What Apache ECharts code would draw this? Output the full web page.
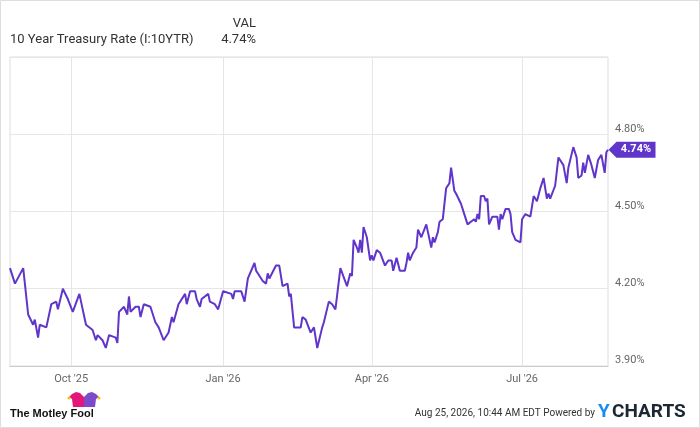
<!DOCTYPE html>
<html>
<head>
    <meta charset="utf-8">
    <title>10 Year Treasury Rate</title>
    <script src="https://cdn.jsdelivr.net/npm/echarts@6/dist/echarts.min.js"></script>
    <style>
        body { margin: 0; background: #fff; }
        #main { width: 700px; height: 428px; }
    </style>
</head>
<body>
<div id="main"></div>
<script type="text/javascript">
    // values, one row per month
    var dates = [
        '2025-08-25','2025-08-28','2025-09-02','2025-09-05','2025-09-08','2025-09-09','2025-09-11','2025-09-12','2025-09-16','2025-09-19','2025-09-22','2025-09-23','2025-09-26','2025-09-29','2025-09-30',
        '2025-10-02','2025-10-06','2025-10-07','2025-10-10','2025-10-14','2025-10-16','2025-10-17','2025-10-20','2025-10-22','2025-10-24','2025-10-28','2025-10-29','2025-10-30',
        '2025-11-02','2025-11-04','2025-11-05','2025-11-06','2025-11-09','2025-11-11','2025-11-12','2025-11-14','2025-11-18','2025-11-21','2025-11-23','2025-11-26','2025-11-29',
        '2025-12-01','2025-12-02','2025-12-05','2025-12-09','2025-12-10','2025-12-12','2025-12-15','2025-12-16','2025-12-18','2025-12-19','2025-12-23','2025-12-24','2025-12-27','2025-12-29',
        '2026-01-01','2026-01-02','2026-01-06','2026-01-07','2026-01-08','2026-01-12','2026-01-14','2026-01-16','2026-01-20','2026-01-21','2026-01-25','2026-01-27','2026-01-28','2026-01-29',
        '2026-02-02','2026-02-04','2026-02-06','2026-02-09','2026-02-10','2026-02-11','2026-02-13','2026-02-17','2026-02-18','2026-02-20','2026-02-23','2026-02-25','2026-02-27',
        '2026-03-02','2026-03-03','2026-03-06','2026-03-08','2026-03-10','2026-03-13','2026-03-14','2026-03-17','2026-03-19','2026-03-20','2026-03-21','2026-03-23','2026-03-24','2026-03-25','2026-03-26','2026-03-27','2026-03-29','2026-03-31',
        '2026-04-01','2026-04-02','2026-04-04','2026-04-06','2026-04-09','2026-04-11','2026-04-13','2026-04-14','2026-04-16','2026-04-18','2026-04-21','2026-04-22','2026-04-23','2026-04-24','2026-04-26','2026-04-28','2026-04-29',
        '2026-05-01','2026-05-04','2026-05-05','2026-05-07','2026-05-08','2026-05-09','2026-05-11','2026-05-12','2026-05-14','2026-05-16','2026-05-18','2026-05-19','2026-05-21','2026-05-22','2026-05-25','2026-05-27','2026-05-29','2026-05-31',
        '2026-06-02','2026-06-03','2026-06-04','2026-06-05','2026-06-06','2026-06-08','2026-06-09','2026-06-10','2026-06-11','2026-06-13','2026-06-16','2026-06-17','2026-06-18','2026-06-19','2026-06-21','2026-06-23','2026-06-24','2026-06-25','2026-06-27','2026-06-30',
        '2026-07-01','2026-07-03','2026-07-06','2026-07-08','2026-07-10','2026-07-12','2026-07-14','2026-07-16','2026-07-17','2026-07-18','2026-07-21','2026-07-23','2026-07-26','2026-07-28','2026-07-29',
        '2026-08-01','2026-08-03','2026-08-04','2026-08-06','2026-08-07','2026-08-08','2026-08-10','2026-08-12','2026-08-14','2026-08-16','2026-08-18','2026-08-20','2026-08-21','2026-08-22'
    ];
    var rates = [
        4.28,4.22,4.28,4.10,4.06,4.08,4.01,4.06,4.05,4.14,4.15,4.12,4.20,4.16,4.16,
        4.11,4.18,4.15,4.06,4.04,4.00,4.02,4.00,3.97,4.02,4.01,3.99,4.11,
        4.13,4.10,4.17,4.11,4.13,4.13,4.09,4.14,4.13,4.07,4.05,4.00,4.03,
        4.09,4.07,4.14,4.18,4.14,4.19,4.19,4.16,4.13,4.16,4.18,4.15,4.14,4.12,
        4.19,4.19,4.18,4.16,4.19,4.19,4.15,4.24,4.30,4.27,4.23,4.22,4.26,4.24,
        4.29,4.29,4.21,4.22,4.17,4.18,4.05,4.05,4.09,4.08,4.03,4.05,3.97,
        4.05,4.07,4.15,4.14,4.12,4.28,4.28,4.21,4.26,4.25,4.39,4.36,4.34,4.39,4.34,4.44,4.40,4.31,
        4.33,4.31,4.35,4.34,4.29,4.31,4.31,4.27,4.32,4.27,4.27,4.30,4.34,4.31,4.34,4.36,4.43,
        4.40,4.45,4.42,4.36,4.40,4.38,4.42,4.46,4.47,4.59,4.61,4.67,4.58,4.57,4.53,4.49,4.45,4.46,
        4.47,4.46,4.49,4.47,4.56,4.56,4.54,4.55,4.45,4.48,4.48,4.43,4.49,4.47,4.51,4.51,4.49,4.42,4.39,4.38,
        4.47,4.49,4.48,4.56,4.54,4.59,4.63,4.55,4.57,4.55,4.60,4.71,4.68,4.61,4.67,
        4.75,4.71,4.63,4.64,4.69,4.65,4.72,4.68,4.63,4.70,4.72,4.65,4.73,4.74
    ];
    var tickDates = ['2025-10-01', '2026-01-01', '2026-04-01', '2026-07-01'];
    var tickLabels = ["Oct '25", "Jan '26", "Apr '26", "Jul '26"];

    var seriesName = '10 Year Treasury Rate (I:10YTR)';
    var lineColor = '#6035c9';

    // parse 'yyyy-mm-dd' as local midnight
    function toTime(s) {
        var p = s.split('-');
        return new Date(+p[0], +p[1] - 1, +p[2]).getTime();
    }

    var tickTimes = tickDates.map(toTime);
    var points = dates.map(function (d, i) { return [toTime(d), rates[i]]; });
    var last = points[points.length - 1];
    var lastText = last[1].toFixed(2) + '%';

    var chart = echarts.init(document.getElementById('main'));

    var option = {
        animation: false,
        textStyle: { fontFamily: 'Roboto' },
        grid: {
            left: 10, right: 92, top: 57, bottom: 62,
            show: true, borderColor: '#dddddd', borderWidth: 1
        },
        // timestamps on a value axis so the quarter ticks can be placed exactly
        xAxis: {
            type: 'value',
            min: points[0][0],
            max: last[0],
            axisLine: { show: true, lineStyle: { color: '#cccccc' } },
            axisTick: { show: false, customValues: tickTimes },
            axisLabel: {
                customValues: tickTimes,
                color: '#666666', fontSize: 11, margin: 8,
                formatter: function (v) {
                    var i = tickTimes.indexOf(v);
                    return i >= 0 ? tickLabels[i] : '';
                }
            },
            splitLine: { show: true, lineStyle: { color: '#e6e6e6' } }
        },
        yAxis: {
            type: 'value',
            position: 'right',
            min: 3.9, max: 5.1, interval: 0.3,
            axisLine: { show: false },
            axisTick: { show: false },
            axisLabel: {
                color: '#666666', fontSize: 11, margin: 7, verticalAlign: 'bottom',
                formatter: function (v) { return v > 5 ? '' : v.toFixed(2) + '%'; }
            },
            splitLine: { lineStyle: { color: '#e6e6e6' } }
        },
        series: [{
            name: seriesName,
            type: 'line',
            data: points,
            showSymbol: false,
            lineStyle: { color: lineColor, width: 2 },
            markPoint: {
                symbol: 'path://M0,8 L8,0 L47,0 L47,16 L8,16 Z',
                symbolSize: [47, 16],
                symbolOffset: [24, 0],
                symbolKeepAspect: false,
                itemStyle: { color: lineColor },
                label: {
                    show: true, formatter: lastText, color: '#ffffff',
                    fontWeight: 'bold', fontSize: 11, offset: [4, 0]
                },
                data: [{ coord: last }]
            }
        }],
        graphic: [
            { type: 'rect', shape: { x: 0.5, y: 0.5, width: 699, height: 427 },
              style: { fill: 'none', stroke: '#dddddd', lineWidth: 1 }, silent: true },
            { type: 'text', left: 10, top: 33,
              style: { text: seriesName, font: '13px Roboto', fill: '#333333' } },
            { type: 'text', right: 444, top: 17,
              style: { text: 'VAL', font: '13px Roboto', fill: '#333333', textAlign: 'right' } },
            { type: 'text', right: 444, top: 33,
              style: { text: lastText, font: '13px Roboto', fill: '#333333', textAlign: 'right' } },
            // Motley Fool jester cap
            { type: 'polygon',
              shape: { points: [[84, 407], [84, 397], [80, 393], [76, 392], [72, 394], [69, 397], [72, 399], [73, 407]] },
              style: { fill: '#e3177a' } },
            { type: 'polygon',
              shape: { points: [[84, 407], [84, 397], [88, 393], [92, 392], [96, 394], [99, 397], [96, 399], [95, 407]] },
              style: { fill: '#7b4bc9' } },
            { type: 'circle', shape: { cx: 69, cy: 398, r: 1.6 }, style: { fill: '#f5c116' } },
            { type: 'circle', shape: { cx: 99, cy: 398, r: 1.6 }, style: { fill: '#f5c116' } },
            { type: 'text', left: 10, top: 408,
              style: { text: 'The Motley Fool', font: 'bold 11px "Liberation Sans"', fill: '#111111' } },
            { type: 'text', right: 105, top: 408,
              style: { text: 'Aug 25, 2026, 10:44 AM EDT Powered by', font: '10px Roboto', fill: '#333333', textAlign: 'right' } },
            { type: 'text', left: 598, top: 403,
              style: { text: 'Y', font: 'bold 19px Roboto', fill: '#1a8cf0' } },
            { type: 'text', left: 612, top: 403,
              style: { text: 'CHARTS', font: 'bold 19px Roboto', fill: '#1d2633' } }
        ]
    };

    chart.setOption(option);
</script>
</body>
</html>
